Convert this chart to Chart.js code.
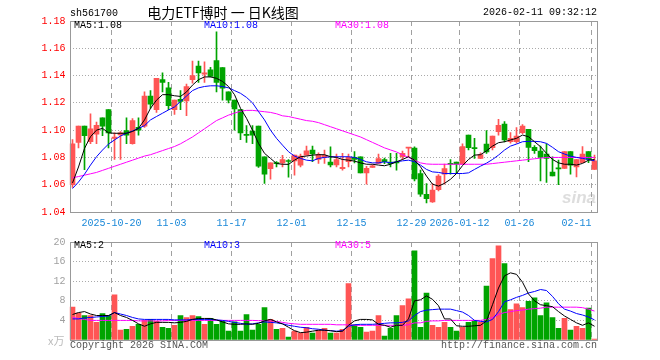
<!DOCTYPE html>
<html lang="zh-CN">
<head>
<meta charset="UTF-8">
<title>电力ETF博时 日K线图</title>
<script src="https://cdn.jsdelivr.net/npm/chart.js"></script>
<style>
  body { margin: 0; background: #fff; }
  .wrap { position: relative; width: 660px; height: 360px; overflow: hidden;
          font-family: "Liberation Mono", "DejaVu Sans Mono", monospace; font-size: 10px; }
  .wrap canvas { position: absolute; left: 0; }
  .txt { position: absolute; white-space: pre; line-height: 12px; }
</style>
</head>
<body>
<div class="wrap">
  <canvas id="kChart" width="660" height="234" style="top:0"></canvas>
  <canvas id="volChart" width="660" height="128" style="top:232px"></canvas>

  <div class="txt" style="left:70px;top:8px;">sh561700</div>
  <div class="txt" style="left:223px;top:5px;transform:translateX(-50%);font:14px/14px 'Noto Sans CJK SC';">电力ETF博时 一 日K线图</div>
  <div class="txt" style="right:63px;top:7px;">2026-02-11 09:32:12</div>

  <div class="txt" style="left:74px;top:20px;color:#000;">MA5:1.08</div>
  <div class="txt" style="left:204px;top:20px;color:#0000ff;">MA10:1.08</div>
  <div class="txt" style="left:335px;top:20px;color:#ff00ff;">MA30:1.08</div>
  <div class="txt" style="left:562px;top:189px;font:italic bold 17px/18px 'Liberation Sans';color:rgba(170,170,170,0.4);">sina</div>

  <div class="txt" style="left:74px;top:240px;color:#000;">MA5:2</div>
  <div class="txt" style="left:204px;top:240px;color:#0000ff;">MA10:3</div>
  <div class="txt" style="left:335px;top:240px;color:#ff00ff;">MA30:5</div>
  <div class="txt" style="left:48px;top:334px;color:#bbb;font:11px/12px 'Noto Sans CJK SC';">x万</div>

  <div class="txt" style="left:70px;top:340px;color:#555;">Copyright 2026 SINA.COM</div>
  <div class="txt" style="right:63px;top:340px;color:#555;">http://finance.sina.com.cn</div>
</div>

<script>
// daily candles, 2025-10-09 .. 2026-02-11
const open = [1.060,1.091,1.103,1.0915,1.097,1.109,1.115,1.094,1.0965,1.0996,
  1.090,1.102,1.103,1.125,1.115,1.137,1.131,1.115,1.1225,1.1215,
  1.137,1.147,1.141,1.1443,1.151,1.1458,1.128,1.122,1.115,1.097,
  1.0994,1.103,1.0805,1.0717,1.0758,1.076,1.0775,1.0775,1.0743,1.0817,
  1.0854,1.0785,1.080,1.0766,1.0746,1.0717,1.0768,1.080,1.0805,1.0687,
  1.0726,1.0756,1.0785,1.0765,1.0765,1.0805,1.0868,1.0869,1.0682,1.053,
  1.0474,1.0564,1.0677,1.0757,1.0766,1.0751,1.0964,1.087,1.0793,1.0898,
  1.0871,1.0989,1.1045,1.0915,1.0915,1.0982,1.1006,1.0874,1.0847,1.0825,
  1.0692,1.0718,1.0719,1.0842,1.0731,1.0761,1.0842,1.0712];
const close = [1.090,1.103,1.096,1.101,1.1035,1.103,1.098,1.095,1.098,1.0964,
  1.107,1.100,1.125,1.119,1.138,1.135,1.118,1.122,1.121,1.132,
  1.140,1.142,1.142,1.1394,1.135,1.1308,1.122,1.1156,1.098,1.0962,
  1.0964,1.0736,1.0677,1.076,1.0755,1.0785,1.077,1.0817,1.081,1.0849,
  1.0825,1.082,1.0815,1.0746,1.0785,1.0727,1.080,1.0785,1.0687,1.0721,
  1.0739,1.0792,1.0768,1.0755,1.076,1.083,1.0874,1.0643,1.053,1.0498,
  1.056,1.0663,1.0719,1.075,1.0751,1.0879,1.0871,1.0865,1.082,1.084,
  1.0957,1.1036,1.0928,1.094,1.0957,1.103,1.0874,1.085,1.080,1.0793,
  1.0665,1.0716,1.0842,1.0744,1.0785,1.0825,1.0785,1.0775];
const high = [1.093,1.103,1.103,1.112,1.106,1.109,1.115,1.098,1.099,1.109,
  1.1085,1.109,1.128,1.129,1.138,1.142,1.135,1.122,1.129,1.1337,
  1.1507,1.1507,1.150,1.146,1.172,1.1458,1.128,1.122,1.115,1.1034,
  1.1034,1.103,1.0805,1.076,1.077,1.0815,1.0785,1.0817,1.0825,1.0883,
  1.0883,1.0834,1.0854,1.0878,1.0825,1.083,1.0825,1.0842,1.0805,1.0735,
  1.0745,1.0825,1.0795,1.083,1.083,1.0847,1.0874,1.0878,1.0707,1.0609,
  1.0609,1.0675,1.0751,1.0785,1.0766,1.090,1.0964,1.094,1.0834,1.0996,
  1.0957,1.108,1.1062,1.0982,1.1018,1.104,1.1006,1.0886,1.0883,1.090,
  1.0805,1.078,1.0842,1.0842,1.0785,1.0879,1.0842,1.0817];
const low = [1.058,1.087,1.071,1.090,1.090,1.096,1.087,1.0785,1.0785,1.090,
  1.0898,1.0964,1.102,1.116,1.113,1.128,1.115,1.1115,1.115,1.1107,
  1.1345,1.135,1.135,1.139,1.128,1.122,1.120,1.100,1.093,1.091,
  1.090,1.0727,1.061,1.064,1.073,1.073,1.0655,1.067,1.073,1.0817,
  1.0768,1.0756,1.0756,1.073,1.073,1.0707,1.073,1.076,1.0687,1.0604,
  1.0726,1.0756,1.0755,1.073,1.0707,1.0785,1.0805,1.0628,1.0515,1.0466,
  1.047,1.0555,1.0604,1.0677,1.0685,1.0751,1.0855,1.0793,1.079,1.083,
  1.0855,1.0964,1.0913,1.0905,1.0905,1.0975,1.0768,1.083,1.0628,1.0616,
  1.0665,1.060,1.0719,1.0677,1.0658,1.0761,1.0761,1.0712];

// price moving averages as drawn
const ma5 = [1.0613,1.073,1.0866,1.0952,1.100,1.1013,1.098,1.0977,1.0977,1.0977,
  1.099,1.1013,1.1075,1.116,1.122,1.126,1.126,1.1252,1.1247,1.128,
  1.133,1.137,1.139,1.139,1.138,1.1357,1.132,1.126,1.116,1.1087,
  1.100,1.0903,1.083,1.0793,1.0755,1.075,1.0749,1.078,1.0805,1.081,
  1.0817,1.082,1.082,1.0805,1.080,1.0785,1.078,1.0773,1.076,1.075,
  1.075,1.0744,1.0739,1.075,1.0768,1.0785,1.0805,1.078,1.0731,1.0663,
  1.0604,1.059,1.061,1.064,1.0682,1.074,1.0785,1.0817,1.082,1.0848,
  1.0883,1.0908,1.0915,1.0928,1.094,1.0964,1.0952,1.0915,1.0879,1.083,
  1.0785,1.076,1.075,1.075,1.0744,1.0756,1.078,1.0785];
const ma10 = [1.0572,1.062,1.0677,1.0744,1.0805,1.0854,1.0898,1.0928,1.0957,1.0977,
  1.0994,1.1013,1.1033,1.1075,1.110,1.1124,1.1148,1.117,1.121,1.125,
  1.129,1.131,1.132,1.1325,1.1325,1.132,1.131,1.129,1.127,1.124,
  1.120,1.1136,1.1075,1.100,1.094,1.089,1.0842,1.081,1.0793,1.078,
  1.0775,1.0793,1.080,1.0805,1.0805,1.0805,1.0805,1.080,1.0785,1.0768,
  1.076,1.076,1.0768,1.076,1.0768,1.0775,1.078,1.0768,1.0744,1.0712,
  1.0694,1.069,1.0682,1.0682,1.0682,1.0682,1.0687,1.0712,1.0736,1.0758,
  1.0785,1.0817,1.0854,1.0883,1.0898,1.0915,1.0918,1.0918,1.0915,1.0903,
  1.0874,1.0842,1.0825,1.081,1.080,1.0793,1.0785,1.0775];
const ma30 = [1.065,1.066,1.067,1.068,1.069,1.0705,1.072,1.0735,1.075,1.0765,
  1.078,1.0795,1.081,1.082,1.0835,1.085,1.0865,1.088,1.090,1.0925,
  1.095,1.098,1.101,1.104,1.107,1.109,1.111,1.1125,1.1138,1.1145,
  1.1145,1.114,1.1135,1.113,1.112,1.1105,1.110,1.109,1.108,1.107,
  1.1065,1.1055,1.104,1.1025,1.101,1.0995,1.098,1.0965,1.095,1.093,
  1.091,1.089,1.087,1.0855,1.084,1.082,1.080,1.078,1.076,1.0752,
  1.075,1.075,1.075,1.075,1.075,1.075,1.075,1.075,1.075,1.075,
  1.0755,1.076,1.0765,1.077,1.0775,1.078,1.0785,1.079,1.0795,1.080,
  1.080,1.080,1.080,1.080,1.080,1.080,1.080,1.080];

// volume (万手) and its averages
const vol = [6.7,5.5,5.0,5.0,3.6,5.4,5.0,9.2,2.0,2.2,
  2.8,3.2,4.0,4.2,3.8,2.6,2.4,3.0,5.0,4.6,
  5.0,4.8,3.2,4.4,3.2,3.8,1.8,3.7,1.8,5.2,
  2.0,3.2,6.6,4.2,2.2,2.4,0.6,1.8,1.4,2.6,
  1.4,2.0,2.4,1.4,1.4,2.2,11.5,3.1,2.6,1.6,
  1.8,5.0,0.8,2.4,5.0,7.0,8.4,18.2,2.6,9.6,
  3.0,2.6,3.6,2.6,1.8,2.6,3.6,4.0,3.6,11.0,
  16.6,19.2,15.6,6.2,7.4,6.6,7.9,8.6,5.0,7.6,
  4.6,2.4,4.4,2.0,2.8,2.4,6.5,0.2];
const vma5 = [5.2,5.6,5.8,5.3,5.0,5.0,5.0,5.6,5.0,4.6,
  4.0,3.3,2.8,3.3,3.6,3.6,3.6,3.5,3.6,3.8,
  4.2,4.4,4.4,4.4,4.1,3.7,3.3,3.2,3.2,3.3,
  3.2,3.4,3.9,4.2,3.7,3.3,2.6,1.9,1.5,1.6,
  1.8,2.0,2.0,1.9,1.7,1.8,3.0,3.9,4.2,4.2,
  4.1,3.2,3.0,2.6,3.0,3.0,4.3,8.0,8.2,9.0,
  8.3,7.0,4.3,4.3,2.9,2.8,2.8,2.9,3.0,3.9,
  7.2,10.6,13.1,13.7,13.4,11.8,9.4,8.0,7.2,7.0,
  6.8,5.8,4.9,4.2,3.5,3.0,3.5,2.8];
const vma10 = [4.3,4.3,4.5,4.6,4.7,4.8,4.9,5.6,5.3,5.0,
  4.6,4.3,4.2,4.2,4.2,4.2,4.2,4.1,4.1,4.1,
  4.2,4.2,4.2,4.2,4.1,4.0,3.8,3.6,3.4,3.2,
  3.3,3.5,3.7,3.6,3.5,3.3,3.0,2.8,2.6,2.5,
  2.3,2.2,2.0,1.9,1.8,1.9,2.8,3.1,3.2,3.2,
  3.2,3.3,3.4,3.5,3.5,3.6,3.9,5.0,5.8,6.1,
  6.2,6.3,6.3,6.3,6.0,5.7,5.0,4.0,3.8,3.7,
  4.2,5.8,7.8,8.2,8.7,9.1,9.6,9.9,10.3,10.1,
  8.9,7.4,6.3,5.9,5.4,5.1,4.7,4.1];
const vma30 = [4.6,4.4,4.2,4.0,4.0,4.0,4.0,4.0,4.0,4.0,
  4.0,3.9,3.9,3.9,3.9,3.9,4.0,4.0,4.0,4.0,
  4.0,4.0,4.0,4.0,4.0,4.0,4.0,4.0,4.0,4.0,
  4.0,3.95,3.9,3.9,3.8,3.6,3.4,3.3,3.2,3.2,
  3.2,3.2,3.2,3.2,3.1,3.1,3.1,3.0,3.0,3.0,
  3.0,3.0,3.0,3.0,3.0,3.0,3.1,3.5,3.5,3.8,
  3.9,3.9,4.0,4.0,4.0,4.0,4.0,4.0,4.0,4.2,
  4.6,5.2,5.6,5.8,6.0,6.1,6.3,6.4,6.5,6.7,
  6.7,6.7,6.7,6.7,6.7,6.6,6.3,5.9];

// date ticks: candle index and text
const tickPos = [7, 17, 27, 37, 47, 57, 65, 75, 87];
const tickText = ['2025-10-20', '11-03', '11-17', '12-01', '12-15', '12-29', '2026-01-12', '01-26', '02-11'];

const UP = '#ff5555', DOWN = '#00a400';
const days = open.map((_, i) => i);
const colors = open.map((o, i) => close[i] >= o ? UP : DOWN);
const body = open.map((o, i) => [Math.min(o, close[i]), Math.max(o, close[i])]);
const wick = low.map((l, i) => [l, high[i]]);
const mono = { family: "'Liberation Mono', 'DejaVu Sans Mono', monospace", size: 10 };

// solid grey box round the plot area
const frame = {
    id: 'frame',
    afterDraw(chart) {
        const { ctx, chartArea: a } = chart;
        const l = Math.ceil(a.left) + 0.5, r = Math.floor(a.right) + 0.5;
        const t = Math.round(a.top) + 0.5, b = Math.round(a.bottom) + 0.5;
        ctx.save();
        ctx.strokeStyle = '#999';
        ctx.lineWidth = 1;
        ctx.strokeRect(l, t, r - l, b - t);
        ctx.restore();
    }
};

function xAxis(showLabels, h) {
    return {
        type: 'category',
        offset: true,
        grid: {
            offset: true,
            drawTicks: false,
            color: ctx => tickPos.includes(ctx.index) ? '#a0a0a0' : 'rgba(0,0,0,0)'
        },
        border: { display: false, dash: [5, 4] },
        ticks: {
            display: showLabels,
            autoSkip: false,
            maxRotation: 0,
            padding: 5,
            labelOffset: -3,
            color: '#1a88d8',
            font: mono,
            callback: (v, i) => {
                const k = tickPos.indexOf(i);
                if (k < 0) return '';
                // last label is pulled left so it stays inside the box
                return k === tickPos.length - 1 ? tickText[k] + '     ' : tickText[k];
            }
        },
        afterFit: s => { s.height = h; }
    };
}

function maLine(label, data, color) {
    return { type: 'line', label: label, data: data, borderColor: color, borderWidth: 1,
             pointRadius: 0, tension: 0, order: 0 };
}

new Chart(document.getElementById('kChart'), {
    type: 'bar',
    data: {
        labels: days,
        datasets: [
            maLine('MA5', ma5, '#000000'),
            maLine('MA10', ma10, '#0000ff'),
            maLine('MA30', ma30, '#ff00ff'),
            { label: 'body', data: body, backgroundColor: colors, barThickness: 5,
              minBarLength: 1, grouped: false, order: 1 },
            { label: 'wick', data: wick, backgroundColor: colors, barThickness: 1,
              grouped: false, order: 2 }
        ]
    },
    options: {
        responsive: false,
        devicePixelRatio: 1,
        animation: false,
        events: [],
        layout: { padding: { top: 21, right: 62.5, left: 0, bottom: 0 } },
        plugins: { legend: { display: false }, tooltip: { enabled: false } },
        scales: {
            x: xAxis(true, 22),
            y: {
                min: 1.04,
                max: 1.18,
                grid: { drawTicks: false, color: '#aaa' },
                border: { display: false, dash: [1, 2] },
                ticks: { stepSize: 0.02, padding: 4, color: '#ff0000', font: mono,
                         callback: v => v.toFixed(2) },
                afterFit: s => { s.width = 69.5; }
            }
        }
    },
    plugins: [frame]
});

new Chart(document.getElementById('volChart'), {
    type: 'bar',
    data: {
        labels: days,
        datasets: [
            maLine('MA5', vma5, '#000000'),
            maLine('MA10', vma10, '#0000ff'),
            maLine('MA30', vma30, '#ff00ff'),
            { label: 'vol', data: vol, backgroundColor: colors, barThickness: 5, order: 1 }
        ]
    },
    options: {
        responsive: false,
        devicePixelRatio: 1,
        animation: false,
        events: [],
        layout: { padding: { top: 8, right: 62.5, left: 0, bottom: 0 } },
        plugins: { legend: { display: false }, tooltip: { enabled: false } },
        scales: {
            x: xAxis(false, 20),
            y: {
                min: 0,
                max: 20,
                grid: { drawTicks: false, color: '#aaa' },
                border: { display: false, dash: [1, 2] },
                ticks: { stepSize: 4, padding: 4, color: '#a0a0a0', font: mono,
                         callback: v => v === 0 ? '' : v },
                afterFit: s => { s.width = 69.5; }
            }
        }
    },
    plugins: [frame]
});
</script>
</body>
</html>
